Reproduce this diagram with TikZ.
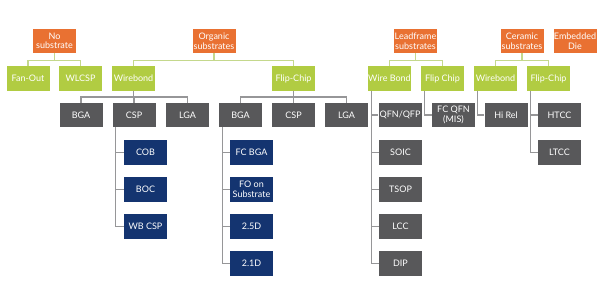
\documentclass[tikz,border=0pt]{standalone}
\usepackage{fontspec}
\setmainfont{Lato}
\definecolor{corange}{RGB}{233,113,50}
\definecolor{cgreen}{RGB}{177,204,66}
\definecolor{cgray}{RGB}{88,88,90}
\definecolor{cnavy}{RGB}{20,52,112}
\definecolor{glinec}{RGB}{196,216,140}
\definecolor{ylinec}{RGB}{150,150,152}
\begin{document}
\begin{tikzpicture}[x=1pt,y=-1pt,
  box/.style={minimum width=43pt,minimum height=24.5pt,inner sep=0pt,text=white,
    align=center,font=\fontsize{9}{9.6}\selectfont},
  obox/.style={box,fill=corange},
  gbox/.style={box,fill=cgreen},
  ybox/.style={box,fill=cgray},
  nbox/.style={box,fill=cnavy},
  gline/.style={draw=glinec,line width=1.2pt},
  yline/.style={draw=ylinec,line width=1.2pt}]
\useasboundingbox[fill=white] (0,0) rectangle (600,302);
% top row
\node[obox] (ns) at (54.5,41) {No\\substrate};
\node[obox] (org) at (214,41) {Organic\\substrates};
\node[obox] (lead) at (415.5,41) {Leadframe\\substrates};
\node[obox] (cer) at (522,41) {Ceramic\\substrates};
\node[obox] (emb) at (575,41) {Embedded\\Die};
% row 2
\node[gbox] (fo) at (28,78.5) {Fan-Out};
\node[gbox] (wl) at (80.5,78.5) {WLCSP};
\node[gbox] (owb) at (133.5,78.5) {Wirebond};
\node[gbox] (ofc) at (293.5,78.5) {Flip-Chip};
\node[gbox] (lwb) at (389.5,78.5) {Wire Bond};
\node[gbox] (lfc) at (442.5,78.5) {Flip Chip};
\node[gbox] (cwb) at (495.5,78.5) {Wirebond};
\node[gbox] (cfc) at (548.5,78.5) {Flip-Chip};
% row 3
\node[ybox] (bga1) at (81,115) {BGA};
\node[ybox] (csp1) at (134,115) {CSP};
\node[ybox] (lga1) at (187.5,115) {LGA};
\node[ybox] (bga2) at (240.5,115) {BGA};
\node[ybox] (csp2) at (293.5,115) {CSP};
\node[ybox] (lga2) at (346.5,115) {LGA};
\node[ybox] (qfn) at (400,115) {QFN/QFP};
\node[ybox] (fcqfn) at (453.5,115) {FC QFN\\(MIS)};
\node[ybox] (hirel) at (506,115) {Hi Rel};
\node[ybox] (htcc) at (559.5,115) {HTCC};
% navy
\node[nbox] (cob) at (145.5,152.5) {COB};
\node[nbox] (boc) at (145.5,189.5) {BOC};
\node[nbox] (wbcsp) at (145.5,226.5) {WB CSP};
\node[nbox] (fcbga) at (251.5,152.5) {FC BGA};
\node[nbox] (fos) at (251.5,189.5) {FO on\\Substrate};
\node[nbox] (d25) at (251.5,226.5) {2.5D};
\node[nbox] (d21) at (251.5,263.5) {2.1D};
% gray lower
\node[ybox] (soic) at (400.5,152.5) {SOIC};
\node[ybox] (tsop) at (400.5,189.5) {TSOP};
\node[ybox] (lcc) at (400.5,226.5) {LCC};
\node[ybox] (dip) at (400.5,263.5) {DIP};
\node[ybox] (ltcc) at (559.5,152.5) {LTCC};
% connectors from orange
\foreach \c in {fo,wl} \draw[gline] (ns.south) -- ++(0,7) -| (\c.north);
\foreach \c in {owb,ofc} \draw[gline] (org.south) -- ++(0,7) -| (\c.north);
\foreach \c in {lwb,lfc} \draw[gline] (lead.south) -- ++(0,7) -| (\c.north);
\foreach \c in {cwb,cfc} \draw[gline] (cer.south) -- ++(0,7) -| (\c.north);
% green to gray
\foreach \c in {bga1,csp1,lga1} \draw[yline] (owb.south) -- ++(0,6) -| (\c.north);
\foreach \c in {bga2,csp2,lga2} \draw[yline] (ofc.south) -- ++(0,6) -| (\c.north);
\foreach \c in {qfn,soic,tsop,lcc,dip} \draw[yline] ([xshift=4pt]lwb.south west) |- (\c.west);
\draw[yline] ([xshift=4pt]lfc.south west) |- (fcqfn.west);
\draw[yline] ([xshift=4pt]cwb.south west) |- (hirel.west);
\foreach \c in {htcc,ltcc} \draw[yline] ([xshift=4pt]cfc.south west) |- (\c.west);
% gray to navy
\foreach \c in {cob,boc,wbcsp} \draw[yline] ([xshift=3.5pt]csp1.south west) |- (\c.west);
\foreach \c in {fcbga,fos,d25,d21} \draw[yline] ([xshift=4pt]bga2.south west) |- (\c.west);
\end{tikzpicture}
\end{document}
